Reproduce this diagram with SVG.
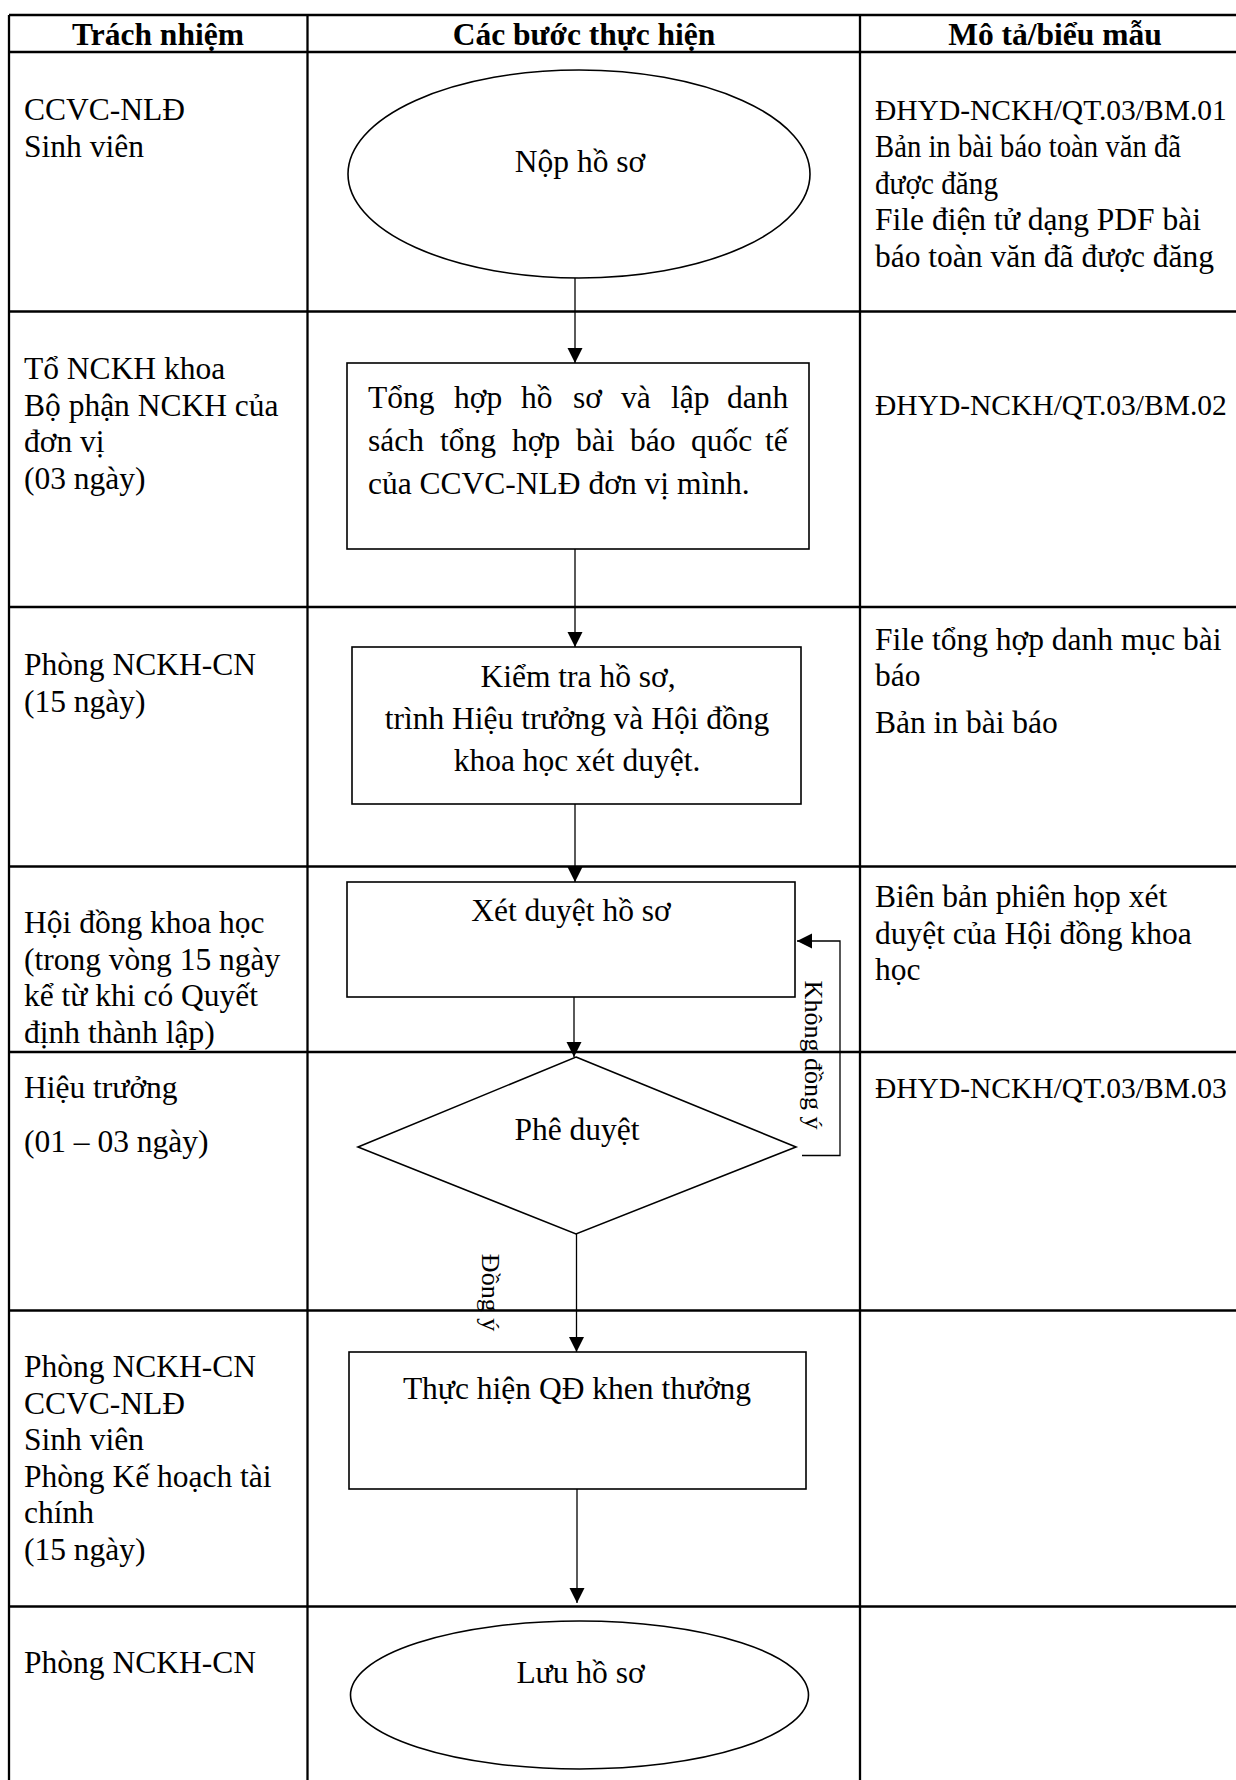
<svg xmlns="http://www.w3.org/2000/svg" width="1236" height="1780" viewBox="0 0 1236 1780">
<style>
  text { font-family: "Liberation Serif", "Times New Roman", serif; font-size: 31.5px; fill: #000; }
  .hdr { font-weight: bold; text-anchor: middle; }
  .mid { text-anchor: middle; }
  .code { font-size: 29.5px; }
  .lbl { font-size: 26px; text-anchor: middle; }
  .grid { stroke: #000; stroke-width: 2.3; fill: none; }
  .shape { stroke: #000; stroke-width: 1.6; fill: #fff; }
  .conn { stroke: #000; stroke-width: 1.3; fill: none; }
</style>
<defs>
  <marker id="ah" markerWidth="16" markerHeight="16" refX="15" refY="7.5" orient="auto" markerUnits="userSpaceOnUse">
    <path d="M0,0 L15,7.5 L0,15 Z" fill="#000"/>
  </marker>
</defs>
<rect width="1236" height="1780" fill="#fff"/>

<g id="table" class="grid">
  <line x1="9" y1="15" x2="1251" y2="15"/>
  <line x1="9" y1="52" x2="1251" y2="52"/>
  <line x1="9" y1="15" x2="9" y2="1780"/>
  <line x1="307.5" y1="15" x2="307.5" y2="1780"/>
  <line x1="860" y1="15" x2="860" y2="1780"/>
  <line x1="9" y1="311.5" x2="1251" y2="311.5"/>
  <line x1="9" y1="607" x2="1251" y2="607"/>
  <line x1="9" y1="866.5" x2="1251" y2="866.5"/>
  <line x1="9" y1="1052" x2="1251" y2="1052"/>
  <line x1="9" y1="1310.5" x2="1251" y2="1310.5"/>
  <line x1="9" y1="1606.5" x2="1251" y2="1606.5"/>
</g>

<g id="header">
  <text class="hdr" x="158" y="45">Trách nhiệm</text>
  <text class="hdr" x="584" y="45">Các bước thực hiện</text>
  <text class="hdr" x="1055" y="45">Mô tả/biểu mẫu</text>
</g>

<g id="responsibility">
  <text x="24" y="120">CCVC-NLĐ</text>
  <text x="24" y="157">Sinh viên</text>

  <text x="24" y="379">Tổ NCKH khoa</text>
  <text x="24" y="415.5">Bộ phận NCKH của</text>
  <text x="24" y="452">đơn vị</text>
  <text x="24" y="488.5">(03 ngày)</text>

  <text x="24" y="675">Phòng NCKH-CN</text>
  <text x="24" y="711.5">(15 ngày)</text>

  <text x="24" y="933">Hội đồng khoa học</text>
  <text x="24" y="969.5">(trong vòng 15 ngày</text>
  <text x="24" y="1006">kể từ khi có Quyết</text>
  <text x="24" y="1042.5">định thành lập)</text>

  <text x="24" y="1098">Hiệu trưởng</text>
  <text x="24" y="1152">(01 – 03 ngày)</text>

  <text x="24" y="1377">Phòng NCKH-CN</text>
  <text x="24" y="1413.5">CCVC-NLĐ</text>
  <text x="24" y="1450">Sinh viên</text>
  <text x="24" y="1486.5">Phòng Kế hoạch tài</text>
  <text x="24" y="1523">chính</text>
  <text x="24" y="1560">(15 ngày)</text>

  <text x="24" y="1673">Phòng NCKH-CN</text>
</g>

<g id="description">
  <text class="code" x="875" y="120">ĐHYD-NCKH/QT.03/BM.01</text>
  <text x="875" y="157" textLength="306" lengthAdjust="spacingAndGlyphs">Bản in bài báo toàn văn đã</text>
  <text x="875" y="193.5" textLength="123" lengthAdjust="spacingAndGlyphs">được đăng</text>
  <text x="875" y="230">File điện tử dạng PDF bài</text>
  <text x="875" y="266.5">báo toàn văn đã được đăng</text>

  <text class="code" x="875" y="415">ĐHYD-NCKH/QT.03/BM.02</text>

  <text x="875" y="650">File tổng hợp danh mục bài</text>
  <text x="875" y="686">báo</text>
  <text x="875" y="733">Bản in bài báo</text>

  <text x="875" y="907">Biên bản phiên họp xét</text>
  <text x="875" y="943.5">duyệt của Hội đồng khoa</text>
  <text x="875" y="980">học</text>

  <text class="code" x="875" y="1098">ĐHYD-NCKH/QT.03/BM.03</text>
</g>

<g id="connectors">
  <line class="conn" x1="575" y1="278" x2="575" y2="363" marker-end="url(#ah)"/>
  <line class="conn" x1="575" y1="549" x2="575" y2="647" marker-end="url(#ah)"/>
  <line class="conn" x1="575" y1="804" x2="575" y2="882" marker-end="url(#ah)"/>
  <line class="conn" x1="574" y1="997" x2="574" y2="1057" marker-end="url(#ah)"/>
  <line class="conn" x1="576.5" y1="1234" x2="576.5" y2="1352" marker-end="url(#ah)"/>
  <line class="conn" x1="577" y1="1489" x2="577" y2="1603" marker-end="url(#ah)"/>
  <polyline class="conn" points="802,1155.5 840,1155.5 840,941 797,941" marker-end="url(#ah)"/>
  <text class="lbl" x="804.5" y="1055" transform="rotate(90 804.5 1055)">Không đồng ý</text>
  <text class="lbl" x="482" y="1292.5" transform="rotate(90 482 1292.5)">Đồng ý</text>
</g>

<g id="node-nop-ho-so">
  <ellipse class="shape" cx="579" cy="174" rx="231" ry="104"/>
  <text class="mid" x="580" y="172">Nộp hồ sơ</text>
</g>

<g id="node-tong-hop">
  <rect class="shape" x="347" y="363" width="462" height="186"/>
  <text y="408"><tspan x="368">Tổng</tspan><tspan x="454">hợp</tspan><tspan x="521">hồ</tspan><tspan x="573">sơ</tspan><tspan x="621">và</tspan><tspan x="671">lập</tspan><tspan x="727">danh</tspan></text>
  <text y="451"><tspan x="368">sách</tspan><tspan x="440">tổng</tspan><tspan x="512">hợp</tspan><tspan x="576">bài</tspan><tspan x="630">báo</tspan><tspan x="691">quốc</tspan><tspan x="765">tế</tspan></text>
  <text x="368" y="494">của CCVC-NLĐ đơn vị mình.</text>
</g>

<g id="node-kiem-tra">
  <rect class="shape" x="352" y="647" width="449" height="157"/>
  <text class="mid" x="578" y="686.5">Kiểm tra hồ sơ,</text>
  <text class="mid" x="577" y="728.5">trình Hiệu trưởng và Hội đồng</text>
  <text class="mid" x="577" y="771">khoa học xét duyệt.</text>
</g>

<g id="node-xet-duyet">
  <rect class="shape" x="347" y="882" width="448" height="115"/>
  <text class="mid" x="571" y="920.5">Xét duyệt hồ sơ</text>
</g>

<g id="node-phe-duyet">
  <polygon class="shape" points="576,1057 796,1147 576,1234 358,1147"/>
  <text class="mid" x="577" y="1140">Phê duyệt</text>
</g>

<g id="node-thuc-hien">
  <rect class="shape" x="349" y="1352" width="457" height="137"/>
  <text class="mid" x="577" y="1399">Thực hiện QĐ khen thưởng</text>
</g>

<g id="node-luu-ho-so">
  <ellipse class="shape" cx="579.5" cy="1695" rx="229" ry="74"/>
  <text class="mid" x="580.5" y="1683">Lưu hồ sơ</text>
</g>
</svg>
